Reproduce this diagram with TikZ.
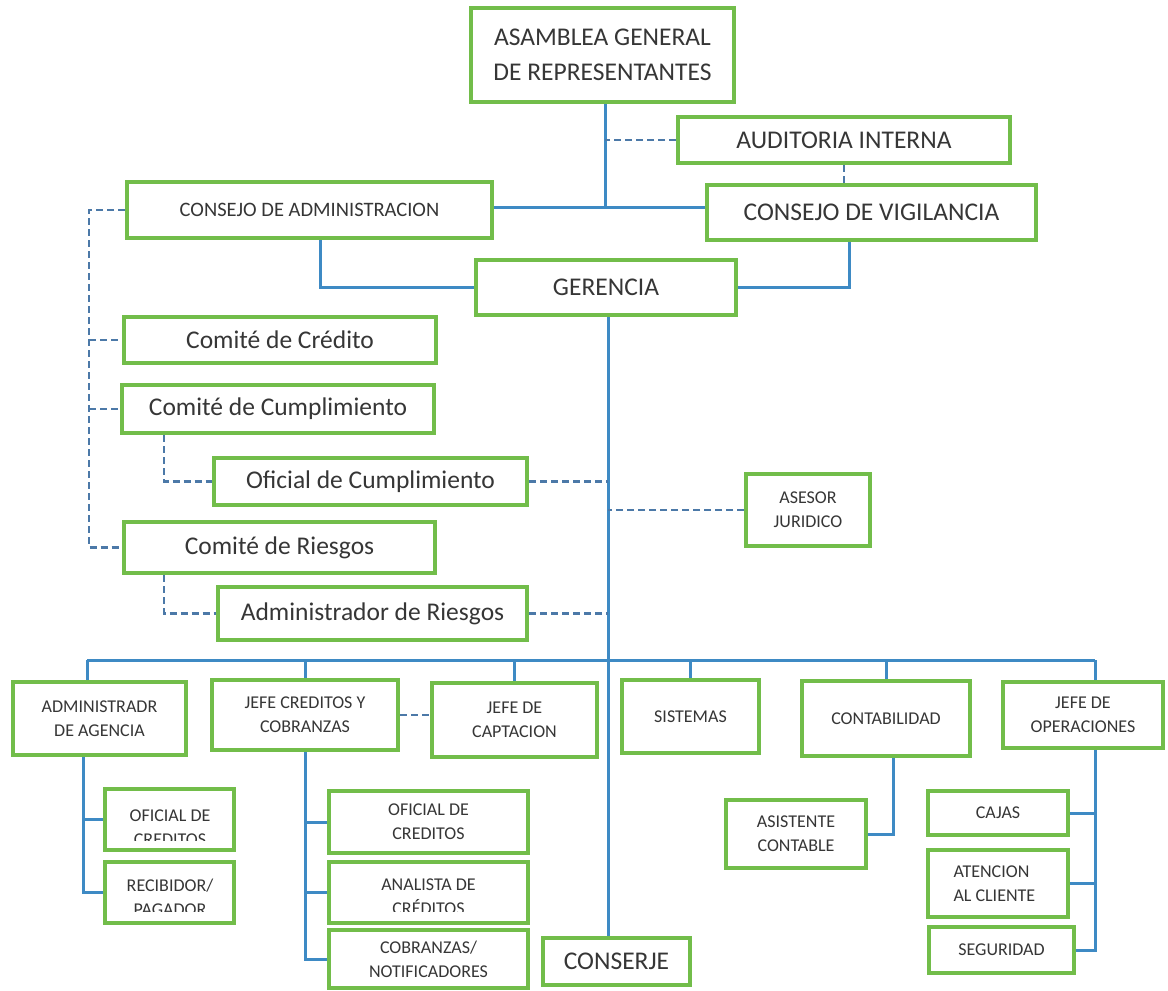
\documentclass[tikz,border=0pt]{standalone}
\usepackage{fontspec}
\setmainfont{Carlito}
\usetikzlibrary{calc,backgrounds}
\definecolor{boxgreen}{HTML}{72BD4A}
\definecolor{lineblue}{HTML}{3E8AC4}
\definecolor{dashblue}{HTML}{4C79A8}
\definecolor{ink}{HTML}{363636}

\begin{document}
\begin{tikzpicture}[x=1pt,y=-1pt,
  box/.style={draw=boxgreen, line width=4pt, fill=white, inner sep=0pt},
  big/.style={text=ink, font=\fontsize{25.5}{35}\selectfont, align=center},
  small/.style={text=ink, font=\fontsize{18}{24}\selectfont, align=center},
  link/.style={draw=lineblue, line width=3pt},
  dlink/.style={draw=dashblue, line width=2.5pt, dash pattern=on 7pt off 4pt}]

\useasboundingbox (0,0) rectangle (1168,991);

% ---- governing bodies
\node[box,big,minimum width=263pt,minimum height=94pt] (asam) at (602.5,55) {ASAMBLEA GENERAL\\DE REPRESENTANTES};
\node[box,big,minimum width=332pt,minimum height=46pt] (audit) at (844,140) {AUDITORIA INTERNA};
\node[box,big,minimum width=329pt,minimum height=55pt] (vigil) at (871.5,212.5) {CONSEJO DE VIGILANCIA};
\node[box,text=ink,font=\fontsize{20.5}{24}\selectfont,minimum width=365pt,minimum height=56pt] (admin) at (309.5,210) {CONSEJO DE ADMINISTRACION};
\node[box,big,minimum width=260pt,minimum height=55pt] (geren) at (606,287.5) {GERENCIA};

% ---- committees
\node[box,big,minimum width=312pt,minimum height=46pt] (ccred) at (280,340) {Comité de Crédito};
\node[box,big,minimum width=312pt,minimum height=48pt] (ccump) at (278,409) {Comité de Cumplimiento};
\node[box,big,minimum width=313pt,minimum height=47pt] (ocump) at (370.5,481.5) {Oficial de Cumplimiento};
\node[box,big,minimum width=311pt,minimum height=51pt] (criesg) at (279.5,547.5) {Comité de Riesgos};
\node[box,big,minimum width=309pt,minimum height=53pt] (ariesg) at (372.5,613.5) {Administrador de Riesgos};
\node[box,small,minimum width=124pt,minimum height=72pt] (asesor) at (808,510) {ASESOR\\JURIDICO};

% ---- departments
\node[box,small,minimum width=173pt,minimum height=73pt] (adag) at (99.5,718.5) {ADMINISTRADR\\DE AGENCIA};
\node[box,small,minimum width=186pt,minimum height=70pt] (jcred) at (305,715) {JEFE CREDITOS Y\\COBRANZAS};
\node[box,small,minimum width=165pt,minimum height=74pt] (jcapt) at (514.5,720) {JEFE DE\\CAPTACION};
\node[box,small,minimum width=137pt,minimum height=73pt] (sist) at (690.5,716.5) {SISTEMAS};
\node[box,small,minimum width=168pt,minimum height=75pt] (conta) at (886,718.5) {CONTABILIDAD};
\node[box,small,minimum width=160pt,minimum height=66pt] (joper) at (1083,715) {JEFE DE\\OPERACIONES};

% ---- staff under the agency
\node[box,minimum width=129pt,minimum height=61pt] (ofcr1) at (169.5,819.5) {};
\begin{scope}
  \clip (107,791) rectangle (232,840);
  \node[small] at (170,827.5) {OFICIAL DE\\CREDITOS};
\end{scope}
\node[box,minimum width=129pt,minimum height=61pt] (recib) at (169.5,892.5) {};
\begin{scope}
  \clip (107,864) rectangle (232,911);
  \node[small] at (170,897.5) {RECIBIDOR/\\PAGADOR};
\end{scope}

% ---- staff under credits
\node[box,small,minimum width=199pt,minimum height=62pt] (ofcr2) at (428.5,822) {OFICIAL DE\\CREDITOS};
\node[box,minimum width=199pt,minimum height=61pt] (anal) at (428.5,892.5) {};
\begin{scope}
  \clip (331,864) rectangle (526,911);
  \node[small] at (428.5,897) {ANALISTA DE\\CRÉDITOS};
\end{scope}
\node[box,small,minimum width=199pt,minimum height=58pt] (cobr) at (428.5,959) {COBRANZAS/\\NOTIFICADORES};

\node[box,big,minimum width=147pt,minimum height=47pt] (conserje) at (616.5,961.5) {CONSERJE};
\node[box,small,minimum width=140pt,minimum height=68pt] (asist) at (796,834) {ASISTENTE\\CONTABLE};

% ---- staff under operations
\node[box,small,minimum width=140pt,minimum height=44pt] (cajas) at (998,813) {CAJAS};
\node[box,minimum width=140pt,minimum height=67pt] (atenc) at (998,883.5) {};
\node[small,align=left,anchor=west] at (950,883.5) {ATENCION\\AL CLIENTE};
\node[box,small,minimum width=145pt,minimum height=46pt] (segur) at (1001.5,950) {SEGURIDAD};

% ---- connectors, behind the boxes
\begin{scope}[on background layer]
  \coordinate (j1) at (605,207);
  \coordinate (spine) at (608,0);
  \coordinate (busL) at (87,660);
  \coordinate (busR) at (1095,660);
  \coordinate (ax) at (83,0);
  \coordinate (lx) at (89,0);

  \draw[link] (asam.south -| j1) -- (j1);
  \draw[link] (admin.east |- j1) -- (vigil.west |- j1);
  \draw[link] ($(admin.south)+(10.5,0)$) |- (geren.west);
  \draw[link] ($(vigil.south)+(-22.5,0)$) |- (geren.east);
  \draw[link] (geren.south -| spine) -- (conserje.north -| spine);

  \draw[link] (busL) -- (busR);
  \draw[link] (busL) -- (busL |- adag.north);
  \foreach \n in {jcred,jcapt,sist,conta}
    \draw[link] (\n.north |- busL) -- (\n.north);
  \draw[link] (busR) -- (busR |- joper.north);

  \draw[link] (ax |- adag.south) |- (recib.west);
  \draw[link] (ax |- ofcr1.west) -- (ofcr1.west);
  \draw[link] (jcred.south) |- (cobr.west);
  \draw[link] (jcred.south |- ofcr2.west) -- (ofcr2.west);
  \draw[link] (jcred.south |- anal.west) -- (anal.west);
  \draw[link] ($(conta.south)+(7,0)$) |- (asist.east);
  \draw[link] (busR |- joper.south) |- (segur.east);
  \draw[link] (busR |- cajas.east) -- (cajas.east);
  \draw[link] (busR |- atenc.east) -- (atenc.east);

  \draw[dlink] (audit.west) -- (audit.west -| j1);
  \draw[dlink] (audit.south) -- (audit.south |- vigil.north);
  \draw[dlink] (admin.west) -- (admin.west -| lx) |- (criesg.west);
  \draw[dlink] (lx |- ccred.west) -- (ccred.west);
  \draw[dlink] (lx |- ccump.west) -- (ccump.west);
  \draw[dlink] ($(ccump.south west)+(44,0)$) |- (ocump.west);
  \draw[dlink] ($(criesg.south west)+(42,0)$) |- (ariesg.west);
  \draw[dlink] (ocump.east) -- (ocump.east -| spine);
  \draw[dlink] (ariesg.east) -- (ariesg.east -| spine);
  \draw[dlink] (asesor.west) -- (asesor.west -| spine);
  \draw[dlink] (jcred.east) -- (jcred.east -| jcapt.west);
\end{scope}
\end{tikzpicture}
\end{document}
